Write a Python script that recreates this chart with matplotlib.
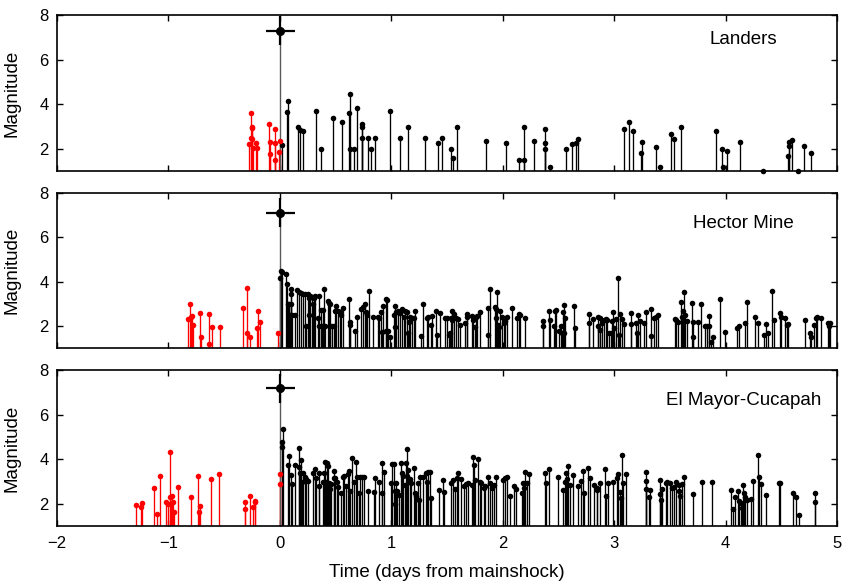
import numpy as np
import matplotlib
matplotlib.use('Agg')
import matplotlib.pyplot as plt

plt.rcParams['font.family'] = ['Liberation Sans', 'DejaVu Sans']

# (time in days from mainshock, magnitude)
landers_main = (0.0, 7.3)
landers_fore = [(-0.277, 2.2), (-0.256, 3.6), (-0.253, 2.95), (-0.247, 3.0), (-0.256, 2.5),
                (-0.247, 2.45), (-0.238, 2.05), (-0.217, 2.25), (-0.209, 2.05), (-0.098, 3.1),
                (-0.092, 2.3), (-0.092, 1.75), (-0.045, 2.9), (-0.045, 2.25), (-0.045, 1.5),
                (-0.003, 2.35), (-0.006, 1.85)]
landers_after = [(0.021, 2.18), (0.06, 3.66), (0.071, 4.15), (0.164, 2.96), (0.185, 2.84),
                 (0.206, 2.79), (0.322, 3.68), (0.372, 1.99), (0.477, 3.39), (0.56, 3.2),
                 (0.62, 3.59), (0.626, 4.47), (0.626, 1.99), (0.664, 1.99), (0.691, 3.83),
                 (0.739, 3.11), (0.739, 2.96), (0.739, 2.48), (0.789, 2.48), (0.819, 1.99),
                 (0.855, 2.48), (0.986, 3.68), (1.081, 2.48), (1.147, 2.97), (1.302, 2.48),
                 (1.418, 2.27), (1.451, 2.48), (1.534, 1.99), (1.555, 1.58), (1.594, 2.99),
                 (1.853, 2.36), (2.026, 2.27), (2.142, 1.48), (2.195, 3.0), (2.195, 1.48),
                 (2.285, 2.36), (2.38, 2.88), (2.383, 2.27), (2.38, 1.99), (2.422, 1.18),
                 (2.568, 1.99), (2.621, 2.2), (2.657, 2.27), (2.672, 2.42), (3.089, 2.91),
                 (3.134, 3.2), (3.172, 2.79), (3.238, 1.79), (3.253, 2.32), (3.378, 2.08),
                 (3.411, 1.18), (3.509, 2.66), (3.539, 2.45), (3.598, 2.99), (3.911, 2.79),
                 (3.965, 1.99), (3.98, 1.18), (4.016, 1.9), (4.126, 2.3), (4.334, 1.0),
                 (4.561, 1.69), (4.567, 2.12), (4.573, 2.32), (4.594, 2.41), (4.647, 1.0),
                 (4.703, 2.14), (4.769, 1.79)]

hector_main = (0.0, 7.1)
hector_fore = [(-0.825, 2.32), (-0.81, 2.98), (-0.795, 2.42), (-0.789, 2.45), (-0.777, 2.05),
               (-0.718, 2.6), (-0.709, 1.49), (-0.634, 2.54), (-0.634, 1.19), (-0.605, 1.97),
               (-0.536, 1.97), (-0.328, 2.81), (-0.298, 3.7), (-0.295, 1.67), (-0.271, 1.49),
               (-0.209, 1.93), (-0.194, 2.69), (-0.176, 2.2), (-0.018, 1.67)]
hector_after = [(0.0, 4.18), (0.006, 4.48), (0.018, 4.45), (0.057, 4.33), (0.066, 3.88),
                (0.071, 2.98), (0.08, 2.98), (0.089, 2.5), (0.101, 3.67), (0.104, 3.43),
                (0.098, 2.98), (0.11, 2.5), (0.14, 2.5), (0.158, 3.64), (0.17, 3.55),
                (0.191, 3.47), (0.209, 3.43), (0.229, 3.46), (0.235, 2.0), (0.25, 3.43),
                (0.259, 2.5), (0.265, 3.28), (0.274, 3.35), (0.289, 3.32), (0.298, 2.98),
                (0.304, 3.25), (0.319, 3.34), (0.343, 2.35), (0.349, 3.37), (0.354, 2.0),
                (0.372, 2.72), (0.387, 2.72), (0.378, 2.0), (0.396, 3.67), (0.402, 2.0),
                (0.432, 3.13), (0.438, 3.05), (0.447, 2.98), (0.453, 2.0), (0.468, 2.0),
                (0.483, 2.0), (0.506, 2.92), (0.497, 2.68), (0.521, 2.68), (0.539, 2.62),
                (0.563, 2.8), (0.551, 2.5), (0.623, 3.22), (0.626, 2.2), (0.632, 2.05),
                (0.676, 1.78), (0.691, 2.42), (0.727, 2.77), (0.745, 2.87), (0.766, 2.98),
                (0.777, 2.62), (0.786, 2.5), (0.801, 3.58), (0.84, 2.42), (0.879, 2.42),
                (0.891, 2.35), (0.909, 2.62), (0.923, 2.92), (0.915, 1.75), (0.95, 3.22),
                (0.965, 3.16), (0.953, 1.78), (0.974, 1.78), (0.989, 1.52), (1.034, 2.92),
                (1.028, 2.5), (1.034, 1.97), (1.043, 2.62), (1.063, 2.68), (1.078, 2.57),
                (1.099, 2.77), (1.114, 2.42), (1.123, 2.68), (1.138, 2.62), (1.153, 1.67),
                (1.159, 2.2), (1.168, 2.42), (1.183, 2.35), (1.206, 2.35), (1.212, 2.68),
                (1.263, 1.57), (1.284, 2.98), (1.317, 2.35), (1.332, 2.42), (1.355, 2.05),
                (1.361, 2.45), (1.397, 2.68), (1.409, 1.6), (1.439, 2.57), (1.48, 2.38),
                (1.498, 2.38), (1.516, 1.6), (1.525, 1.67), (1.534, 2.38), (1.549, 2.68),
                (1.546, 2.27), (1.564, 2.53), (1.579, 2.38), (1.6, 2.32), (1.618, 2.05),
                (1.659, 2.12), (1.677, 2.53), (1.683, 2.42), (1.722, 2.47), (1.734, 2.27),
                (1.749, 1.97), (1.763, 2.42), (1.772, 2.47), (1.796, 2.65), (1.868, 2.83),
                (1.868, 1.6), (1.883, 3.67), (1.951, 3.52), (1.927, 2.87), (1.939, 2.77),
                (1.942, 2.38), (1.957, 2.05), (1.969, 1.97), (1.972, 2.68), (1.993, 2.42),
                (2.011, 2.12), (2.023, 2.23), (2.04, 2.42), (2.082, 2.8), (2.13, 2.35),
                (2.142, 2.53), (2.154, 2.5), (2.201, 2.35), (2.362, 2.24), (2.362, 2.02),
                (2.419, 2.69), (2.428, 2.27), (2.464, 2.02), (2.469, 2.69),
                (2.478, 2.72), (2.508, 1.78), (2.523, 2.02), (2.532, 1.67), (2.544, 2.65),
                (2.55, 2.95), (2.559, 2.35), (2.553, 1.67), (2.642, 2.92), (2.648, 1.9),
                (2.77, 2.54), (2.776, 2.12), (2.806, 2.32), (2.851, 2.42), (2.857, 2.02),
                (2.872, 2.38), (2.875, 1.82), (2.895, 2.12), (2.91, 2.27), (2.925, 2.32),
                (2.94, 2.27), (2.955, 1.67), (2.97, 1.67), (2.979, 2.23), (2.994, 2.62),
                (3.0, 1.9), (3.015, 2.32), (3.038, 4.15), (3.044, 1.6), (3.053, 2.53),
                (3.074, 2.32), (3.089, 2.08), (3.149, 2.57), (3.149, 2.08), (3.193, 2.12),
                (3.208, 1.67), (3.217, 2.5), (3.229, 2.23), (3.268, 2.12), (3.286, 2.62),
                (3.327, 2.77), (3.333, 1.55), (3.357, 2.35), (3.372, 2.42), (3.396, 2.5),
                (3.545, 2.32), (3.557, 2.27), (3.575, 2.2), (3.599, 3.1), (3.61, 2.42),
                (3.619, 2.68), (3.628, 3.55), (3.634, 2.5), (3.658, 2.23), (3.7, 3.02),
                (3.706, 2.2), (3.709, 1.52), (3.75, 2.2), (3.777, 3.0), (3.813, 2.02),
                (3.834, 2.02), (3.849, 2.47), (3.855, 2.02), (3.873, 1.3), (3.884, 1.52),
                (3.953, 3.22), (3.992, 1.72), (4.102, 1.9), (4.123, 2.02), (4.176, 2.12),
                (4.19, 3.07), (4.266, 2.42), (4.29, 2.12), (4.349, 1.6), (4.361, 2.09),
                (4.379, 1.67), (4.415, 3.58), (4.43, 2.27), (4.486, 2.57), (4.501, 2.42),
                (4.537, 2.35), (4.549, 2.05), (4.564, 2.08), (4.713, 2.27), (4.755, 1.7),
                (4.764, 1.52), (4.794, 2.05), (4.809, 2.35), (4.818, 2.42), (4.855, 2.35),
                (4.921, 2.12), (4.927, 2.02), (4.936, 2.12)]

elmayor_main = (0.0, 7.2)
elmayor_fore = [(-1.293, 1.93), (-1.245, 1.87), (-1.236, 2.05), (-1.132, 2.7), (-1.102, 1.54),
                (-1.078, 3.25), (-1.019, 2.07), (-1.001, 1.98), (-0.986, 4.33), (-0.983, 2.32),
                (-0.974, 1.98), (-0.965, 2.35), (-0.959, 2.07), (-0.95, 1.65), (-0.912, 2.74),
                (-0.801, 2.31), (-0.733, 3.25), (-0.73, 1.65), (-0.721, 1.92), (-0.62, 3.12),
                (-0.545, 3.34), (-0.316, 2.07), (-0.313, 1.78), (-0.265, 2.35), (-0.244, 1.87),
                (-0.226, 2.07), (-0.223, 2.13), (-0.003, 3.33), (-0.003, 2.89)]
elmayor_after = [(0.015, 4.55), (0.021, 4.8), (0.03, 5.36), (0.071, 3.75), (0.086, 4.15),
                 (0.101, 3.3), (0.107, 2.88), (0.14, 3.75), (0.17, 4.5), (0.176, 3.67),
                 (0.185, 3.4), (0.191, 3.97), (0.197, 3.0), (0.206, 3.37), (0.223, 3.22),
                 (0.235, 3.1), (0.25, 3.03), (0.301, 3.4), (0.319, 3.55), (0.325, 3.15),
                 (0.349, 3.37), (0.349, 2.8), (0.387, 3.0), (0.396, 3.4), (0.408, 3.9),
                 (0.42, 3.82), (0.432, 3.7), (0.417, 3.0), (0.438, 2.95), (0.453, 2.65),
                 (0.462, 2.88), (0.483, 3.49), (0.483, 3.15), (0.497, 3.15), (0.512, 3.0),
                 (0.518, 2.77), (0.548, 2.47), (0.563, 3.22), (0.575, 3.25), (0.593, 2.8),
                 (0.608, 3.34), (0.617, 3.49), (0.632, 2.59), (0.646, 4.08), (0.661, 3.0),
                 (0.682, 3.87), (0.691, 3.19), (0.706, 2.47), (0.721, 3.22), (0.736, 3.19),
                 (0.757, 3.19), (0.789, 2.59), (0.843, 2.55), (0.855, 3.15), (0.894, 3.0),
                 (0.915, 3.82), (0.92, 2.47), (0.938, 3.45), (0.998, 2.95), (1.004, 3.78),
                 (1.022, 3.78), (1.034, 2.59), (1.04, 2.92), (1.052, 2.59), (1.034, 1.99),
                 (1.072, 2.4), (1.084, 3.82), (1.099, 3.37), (1.108, 3.25), (1.123, 2.85),
                 (1.135, 3.82), (1.138, 4.45), (1.138, 3.25), (1.153, 3.52), (1.168, 3.1),
                 (1.177, 2.92), (1.203, 3.6), (1.212, 2.5), (1.218, 2.35), (1.236, 2.95),
                 (1.248, 2.17), (1.257, 3.22), (1.287, 3.19), (1.308, 3.37), (1.32, 3.0),
                 (1.332, 3.45), (1.346, 3.45), (1.355, 2.25), (1.427, 2.62), (1.466, 3.07),
                 (1.472, 2.55), (1.54, 2.95), (1.558, 3.07), (1.576, 2.65), (1.588, 3.15),
                 (1.6, 3.37), (1.629, 3.1), (1.653, 2.8), (1.674, 2.89), (1.689, 2.95),
                 (1.725, 2.85), (1.737, 4.12), (1.74, 3.75), (1.749, 3.07), (1.778, 4.0),
                 (1.799, 3.0), (1.808, 2.92), (1.832, 2.7), (1.844, 2.8), (1.868, 3.19),
                 (1.883, 2.92), (1.903, 2.7), (1.921, 2.85), (1.942, 3.19), (2.002, 3.07),
                 (2.017, 3.15), (2.04, 3.22), (2.061, 2.35), (2.1, 2.8), (2.121, 2.65),
                 (2.172, 2.47), (2.181, 2.92), (2.195, 2.7), (2.201, 3.45), (2.216, 2.92),
                 (2.234, 3.34), (2.38, 3.4), (2.389, 2.95), (2.419, 3.55),
                 (2.496, 3.19), (2.544, 2.62), (2.556, 3.0), (2.568, 3.37), (2.574, 3.1),
                 (2.586, 3.72), (2.603, 2.85), (2.627, 3.3), (2.672, 2.82), (2.702, 3.04),
                 (2.717, 3.49), (2.732, 2.47), (2.764, 3.63), (2.782, 3.15), (2.815, 2.85),
                 (2.845, 2.62), (2.848, 2.7), (2.872, 2.95), (2.916, 3.55), (2.931, 2.35),
                 (2.946, 2.92), (2.994, 2.98), (3.021, 3.15), (3.033, 3.33), (3.053, 2.55),
                 (3.065, 2.25), (3.074, 4.18), (3.083, 2.95), (3.107, 3.33), (3.286, 3.42),
                 (3.289, 3.01), (3.286, 2.68), (3.315, 2.29), (3.324, 2.62), (3.411, 3.07),
                 (3.411, 2.44), (3.423, 2.17), (3.429, 2.68), (3.461, 2.92), (3.476, 2.97),
                 (3.497, 2.92), (3.515, 2.73), (3.533, 2.77), (3.557, 2.98), (3.58, 2.85),
                 (3.586, 2.59), (3.595, 2.35), (3.61, 2.89), (3.631, 3.22), (3.709, 2.44),
                 (3.789, 2.97), (3.878, 2.98), (4.051, 2.62), (4.063, 1.75), (4.084, 2.32),
                 (4.111, 2.59), (4.123, 2.14), (4.135, 2.02), (4.149, 1.8), (4.152, 2.85),
                 (4.164, 2.47), (4.176, 2.29), (4.188, 2.17), (4.224, 2.23), (4.245, 3.04),
                 (4.29, 4.2), (4.296, 3.22), (4.316, 2.88), (4.364, 2.4), (4.483, 2.92),
                 (4.486, 2.95), (4.605, 2.5), (4.632, 2.29), (4.662, 1.48), (4.799, 2.5),
                 (4.802, 2.1)]

names = ['Landers', 'Hector Mine', 'El Mayor-Cucapah']
mains = [landers_main, hector_main, elmayor_main]
fores = [landers_fore, hector_fore, elmayor_fore]
afters = [landers_after, hector_after, elmayor_after]
name_y = [0.845, 0.805, 0.807]

fig = plt.figure(figsize=(8.42, 5.84), dpi=100)
bottoms = [0.7072, 0.4036, 0.0993]
axes = [fig.add_axes([0.0677, b, 0.9264, 0.2665]) for b in bottoms]


def stems(ax, pts, color):
    t = np.array([p[0] for p in pts])
    m = np.array([p[1] for p in pts])
    ax.vlines(t, 1, m, color=color, lw=0.95)
    ax.plot(t, m, 'o', color=color, ms=4.0, mec='none', clip_on=False, zorder=3)


for i, ax in enumerate(axes):
    stems(ax, afters[i], 'black')
    stems(ax, fores[i], 'red')
    t0, m0 = mains[i]
    ax.vlines(t0 + 0.004, 1, m0, color='0.35', lw=1.0)
    ax.errorbar([t0 + 0.004], [m0], xerr=0.13, yerr=0.65, fmt='o', color='black',
                ms=5.5, lw=1.6, capsize=0, zorder=4)

    ax.set_xlim(-2, 5)
    ax.set_ylim(1, 8)
    ax.set_yticks([2, 4, 6, 8])
    ax.set_xticks(range(-2, 6))
    ax.tick_params(direction='in', top=True, right=True, labelsize=12, length=4, width=1)
    ax.tick_params(axis='x', pad=7)
    ax.tick_params(axis='y', pad=6)
    for s in ax.spines.values():
        s.set_linewidth(1.2)
    ax.set_ylabel('Magnitude', fontsize=13.5)
    ax.yaxis.set_label_coords(-0.047, 0.5)
    ax.text(0.88, name_y[i], names[i], transform=ax.transAxes, fontsize=13.5,
            ha='center', va='center')
    if i < 2:
        ax.set_xticklabels([])
    else:
        ax.set_xticklabels(['\u22122', '\u22121', '0', '1', '2', '3', '4', '5'])

axes[2].set_xlabel('Time (days from mainshock)', fontsize=13.5)
axes[2].xaxis.set_label_coords(0.5, -0.245)

fig.savefig('out.png', dpi=100)
